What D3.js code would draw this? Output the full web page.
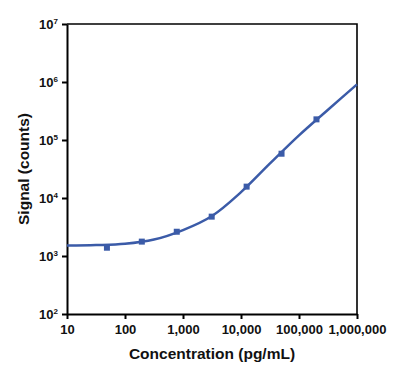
<!DOCTYPE html>
<html>
<head>
<meta charset="utf-8">
<script src="https://cdn.jsdelivr.net/npm/d3@7"></script>
<style>
  body { margin: 0; background: #fff; }
  svg text { font-family: "Liberation Sans", Arial, sans-serif; font-weight: bold; fill: #111; }
</style>
</head>
<body>
<svg id="chart" width="400" height="378"></svg>
<script>
// measured standards (pg/mL vs counts)
const concentrations = [48.8, 195, 781, 3125, 12500, 50000, 200000];
const signals = [1390, 1770, 2620, 4770, 15700, 58000, 227000];

// fitted curve
const curveConc = [10, 31.6, 100, 316, 1000, 3162, 10000, 31623, 100000, 316228, 1000000];
const curveSignal = [1510, 1540, 1620, 1920, 2800, 4900, 12600, 39400, 120000, 332000, 912000];

const xTicks = [10, 100, 1000, 10000, 100000, 1000000];
const xTickLabels = ['10', '100', '1,000', '10,000', '100,000', '1,000,000'];
const yTicks = [100, 1000, 10000, 100000, 1000000, 10000000];
const yTickExp = ['2', '3', '4', '5', '6', '7'];

const svg = d3.select('#chart');
const margin = { left: 67, top: 24, right: 43, bottom: 64 };
const width = 400 - margin.left - margin.right,
  height = 378 - margin.top - margin.bottom;
const blue = '#3b5ba8';

const x = d3.scaleLog().domain([10, 1e6]).range([0, width]);
const y = d3.scaleLog().domain([100, 1e7]).range([height, 0]);

const g = svg.append('g').attr('transform', `translate(${margin.left},${margin.top})`);

// top and right frame
g.append('path')
  .attr('d', `M0,0H${width}V${height}`)
  .attr('fill', 'none')
  .attr('stroke', '#000')
  .attr('stroke-width', 1.6);

// x axis
const xAxis = g.append('g')
  .attr('transform', `translate(0,${height})`)
  .call(d3.axisBottom(x).tickValues(xTicks).tickFormat((d, i) => xTickLabels[i]).tickSize(5).tickSizeOuter(0));
xAxis.select('.domain').attr('stroke-width', 2);
xAxis.selectAll('.tick line').attr('stroke-width', 2);
xAxis.selectAll('.tick text').attr('font-size', 13).attr('dy', '0.95em');

// y axis with superscript exponents
const yAxis = g.append('g')
  .call(d3.axisLeft(y).tickValues(yTicks).tickFormat('').tickSize(5).tickSizeOuter(0));
yAxis.select('.domain').attr('stroke-width', 2);
yAxis.selectAll('.tick line').attr('stroke-width', 2);
yAxis.selectAll('.tick').each(function (d, i) {
  const t = d3.select(this).append('text')
    .attr('x', -9)
    .attr('dy', '0.35em')
    .attr('text-anchor', 'end')
    .attr('font-size', 13);
  t.append('tspan').text('10');
  t.append('tspan').attr('font-size', 8).attr('dy', '-0.6em').text(yTickExp[i]);
});

// fitted curve
const curveData = curveConc.map((c, i) => [c, curveSignal[i]]);
g.append('path')
  .datum(curveData)
  .attr('fill', 'none')
  .attr('stroke', blue)
  .attr('stroke-width', 2.5)
  .attr('d', d3.line().x(d => x(d[0])).y(d => y(d[1])).curve(d3.curveCatmullRom.alpha(0.5)));

// data points
g.selectAll('rect.pt')
  .data(concentrations.map((c, i) => [c, signals[i]]))
  .enter()
  .append('rect')
  .attr('class', 'pt')
  .attr('x', d => x(d[0]) - 3)
  .attr('y', d => y(d[1]) - 3)
  .attr('width', 6)
  .attr('height', 6)
  .attr('fill', blue);

// axis titles
svg.append('text')
  .attr('x', margin.left + width / 2)
  .attr('y', 359)
  .attr('text-anchor', 'middle')
  .attr('font-size', 15.5)
  .text('Concentration (pg/mL)');

svg.append('text')
  .attr('transform', `translate(29,${margin.top + height / 2}) rotate(-90)`)
  .attr('text-anchor', 'middle')
  .attr('font-size', 15.5)
  .text('Signal (counts)');
</script>
</body>
</html>
